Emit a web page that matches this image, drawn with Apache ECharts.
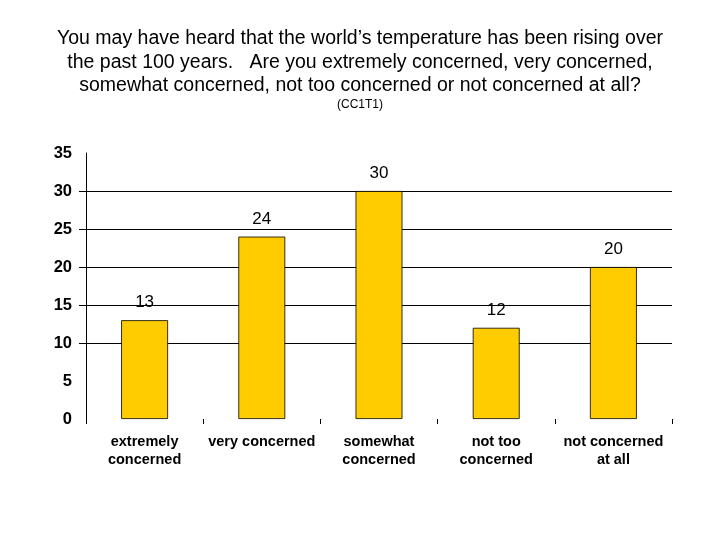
<!DOCTYPE html>
<html>
<head>
<meta charset="utf-8">
<script src="https://cdn.jsdelivr.net/npm/echarts@6/dist/echarts.min.js"></script>
<style>html,body{margin:0;padding:0;background:#fff;}#c{width:720px;height:540px;}</style>
</head>
<body>
<div id="c"></div>
<script>
const titleText = "You may have heard that the world\u2019s temperature has been rising over\nthe past 100 years.   Are you extremely concerned, very concerned,\nsomewhat concerned, not too concerned or not concerned at all?";
const subtitleText = "(CC1T1)";
const categories = ["extremely\nconcerned", "very concerned", "somewhat\nconcerned", "not too\nconcerned", "not concerned\nat all"];
const values = [13, 24, 30, 12, 20];
const yTicks = [10, 15, 20, 25, 30];

const chart = echarts.init(document.getElementById('c'), null, {renderer: 'canvas'});
chart.setOption({
  backgroundColor: '#ffffff',
  animation: false,
  title: [{
    text: titleText,
    left: 'center',
    top: 22,
    textStyle: {fontFamily: 'Liberation Sans', fontSize: 19.5, fontWeight: 'normal', color: '#000', lineHeight: 23.5}
  }, {
    text: subtitleText,
    left: 'center',
    top: 94,
    textStyle: {fontFamily: 'Liberation Sans', fontSize: 12, fontWeight: 'normal', color: '#000'}
  }],
  grid: {left: 86, right: 48, top: 153, bottom: 121, containLabel: false},
  xAxis: {
    type: 'category',
    data: categories,
    boundaryGap: true,
    axisLine: {show: false},
    axisTick: {show: true, length: 5, lineStyle: {color: '#000', width: 1}},
    axisLabel: {
      interval: 0,
      margin: 14,
      fontFamily: 'Liberation Sans',
      fontSize: 14.5,
      fontWeight: 'bold',
      color: '#000',
      lineHeight: 18
    }
  },
  yAxis: {
    type: 'value',
    min: 0,
    max: 35,
    interval: 5,
    axisLine: {show: true, lineStyle: {color: '#000', width: 1}},
    axisTick: {show: true, customValues: yTicks, length: 7, lineStyle: {color: '#000', width: 1}},
    axisLabel: {
      margin: 14,
      fontFamily: 'Liberation Sans',
      fontSize: 16.5,
      fontWeight: 'bold',
      color: '#000'
    },
    splitLine: {
      show: true,
      lineStyle: {color: '#000', width: 1}
    }
  },
  series: [{
    type: 'bar',
    data: values,
    barWidth: '40%',
    itemStyle: {color: '#FFCC00', borderColor: '#000', borderWidth: 0.8},
    label: {
      show: true,
      position: 'top',
      distance: 9,
      fontFamily: 'Liberation Sans',
      fontSize: 17,
      color: '#000'
    }
  }]
});
</script>
</body>
</html>
